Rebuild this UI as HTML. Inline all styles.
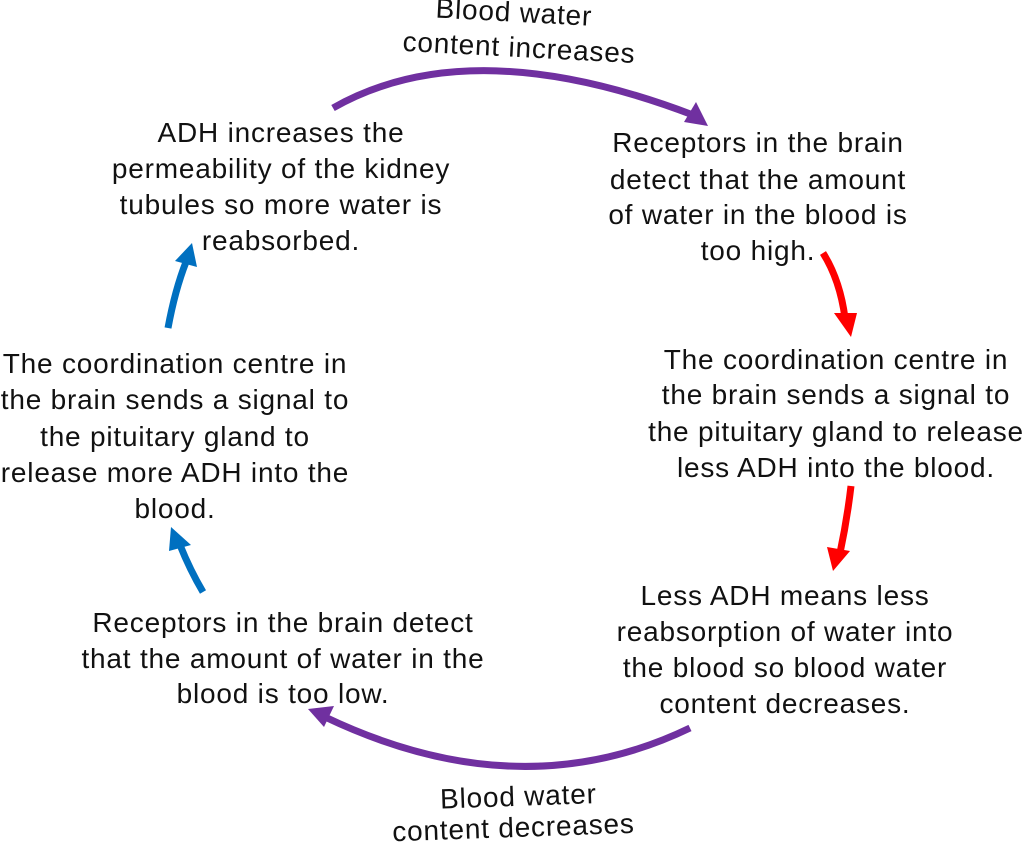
<!DOCTYPE html>
<html><head><meta charset="utf-8"><style>
html,body{margin:0;padding:0;background:#fff;}
svg{display:block;}
text{font-family:"Liberation Sans",sans-serif;font-size:28px;letter-spacing:0.8px;fill:#111;text-anchor:middle;}
</style></head><body>
<svg width="1024" height="842" viewBox="0 0 1024 842" xmlns="http://www.w3.org/2000/svg">
<path d="M333,108 Q470,30 693,115" fill="none" stroke="#7030a0" stroke-width="7"/>
<polygon points="708,126 684,122 696,102" fill="#7030a0"/>
<path d="M823,253 Q840,280 845,318" fill="none" stroke="#ff0000" stroke-width="7"/>
<polygon points="851,337 834,313 857,313" fill="#ff0000"/>
<path d="M851,486 Q847,520 840,553" fill="none" stroke="#ff0000" stroke-width="7"/>
<polygon points="833,571 827,547 850,551" fill="#ff0000"/>
<path d="M690,728 Q520,810 325,717" fill="none" stroke="#7030a0" stroke-width="7"/>
<polygon points="308,709 334,706 324,727" fill="#7030a0"/>
<path d="M203,592 Q190,570 180,545" fill="none" stroke="#0070c0" stroke-width="7"/>
<polygon points="171,527 191,545 169,551" fill="#0070c0"/>
<path d="M168,328 Q175,290 186,262" fill="none" stroke="#0070c0" stroke-width="7"/>
<polygon points="192,243 197,267 175,261" fill="#0070c0"/>

<g transform="rotate(3 520 30)">
<text x="513" y="22">Blood water</text>
<text x="520" y="57">content increases</text>
</g>
<text x="281" y="142">ADH increases the</text>
<text x="281" y="178">permeability of the kidney</text>
<text x="281" y="214">tubules so more water is</text>
<text x="281" y="250">reabsorbed.</text>

<text x="758" y="152">Receptors in the brain</text>
<text x="758" y="189">detect that the amount</text>
<text x="758" y="224">of water in the blood is</text>
<text x="758" y="260">too high.</text>

<text x="836" y="369">The coordination centre in</text>
<text x="836" y="404">the brain sends a signal to</text>
<text x="836" y="441">the pituitary gland to release</text>
<text x="836" y="477">less ADH into the blood.</text>

<text x="785" y="605">Less ADH means less</text>
<text x="785" y="641">reabsorption of water into</text>
<text x="785" y="677">the blood so blood water</text>
<text x="785" y="713">content decreases.</text>

<text x="175" y="373">The coordination centre in</text>
<text x="175" y="409">the brain sends a signal to</text>
<text x="175" y="446">the pituitary gland to</text>
<text x="175" y="482">release more ADH into the</text>
<text x="175" y="518">blood.</text>

<text x="283" y="632">Receptors in the brain detect</text>
<text x="283" y="668">that the amount of water in the</text>
<text x="283" y="703">blood is too low.</text>

<g transform="rotate(-2 515 815)">
<text x="519" y="806">Blood water</text>
<text x="513" y="837">content decreases</text>
</g>
</svg>
</body></html>
